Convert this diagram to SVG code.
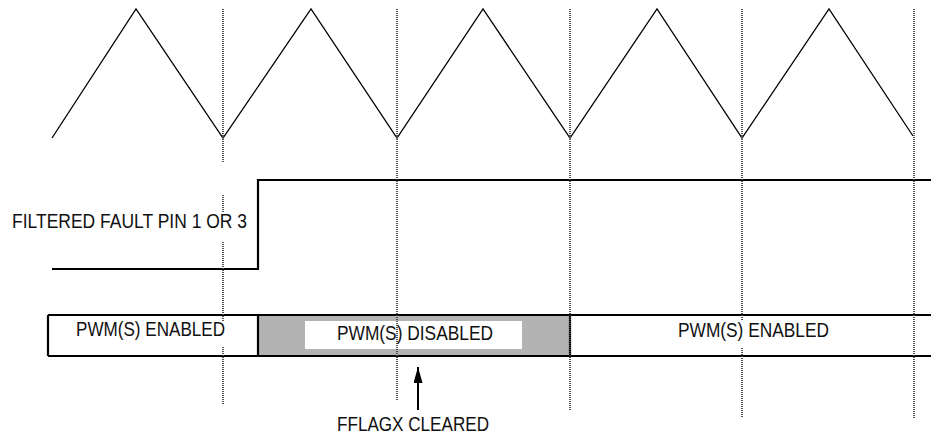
<svg xmlns="http://www.w3.org/2000/svg" width="931" height="434" viewBox="0 0 931 434">
<style>
.grid{stroke:#444;stroke-width:1.8;stroke-dasharray:1 1;fill:none}
.wave{stroke:#000;stroke-width:1.3;fill:none;stroke-linejoin:miter}
.sig{stroke:#000;stroke-width:2.2;fill:none}
.lbl{font-family:"Liberation Sans",Arial,sans-serif;font-size:21px;fill:#111}
</style>
<defs>
<marker id="ah" markerWidth="16" markerHeight="9" refX="16" refY="4.5" orient="auto" markerUnits="userSpaceOnUse" viewBox="0 0 16 9">
<path d="M0,0 L16,4.5 L0,9 Z" fill="#000"/>
</marker>
</defs>
<rect width="931" height="434" fill="#fff"/>
<g id="carrier">
<polyline class="wave" points="52,138 136,9 223,138 311,9 397,138 483,9 570,138 657,9 742,138 829,9 913,136"/>
</g>
<g id="fault-signal">
<polyline class="sig" points="52,269 258,269 258,180 931,180"/>
</g>
<g id="pwm-state">
<rect x="258" y="315" width="312" height="41" fill="#b3b3b3"/>
<rect x="305" y="321" width="217" height="28" fill="#fff"/>
<path class="sig" d="M48,315 H931 M48,356 H931 M48,315 V356 M258,315 V356 M570,315 V356"/>
</g>
<g id="grid">
<path class="grid" d="M223,9 V163 M223,195 V213 M223,242 V322 M223,347 V405 M397,9 V400 M570,9 V410 M742,9 V321 M742,348 V417 M914,9 V418"/>
</g>
<g id="labels">
<text class="lbl" x="12" y="228" textLength="235" lengthAdjust="spacingAndGlyphs">FILTERED FAULT PIN 1 OR 3</text>
<text class="lbl" x="76" y="336" textLength="149" lengthAdjust="spacingAndGlyphs">PWM(S) ENABLED</text>
<text class="lbl" x="337" y="340" textLength="156" lengthAdjust="spacingAndGlyphs">PWM(S) DISABLED</text>
<text class="lbl" x="678" y="337" textLength="151" lengthAdjust="spacingAndGlyphs">PWM(S) ENABLED</text>
<text class="lbl" x="337" y="431" textLength="152" lengthAdjust="spacingAndGlyphs">FFLAGX CLEARED</text>
</g>
<g id="connectors">
<line x1="418" y1="410" x2="418" y2="367" stroke="#000" stroke-width="2" marker-end="url(#ah)"/>
</g>
</svg>
